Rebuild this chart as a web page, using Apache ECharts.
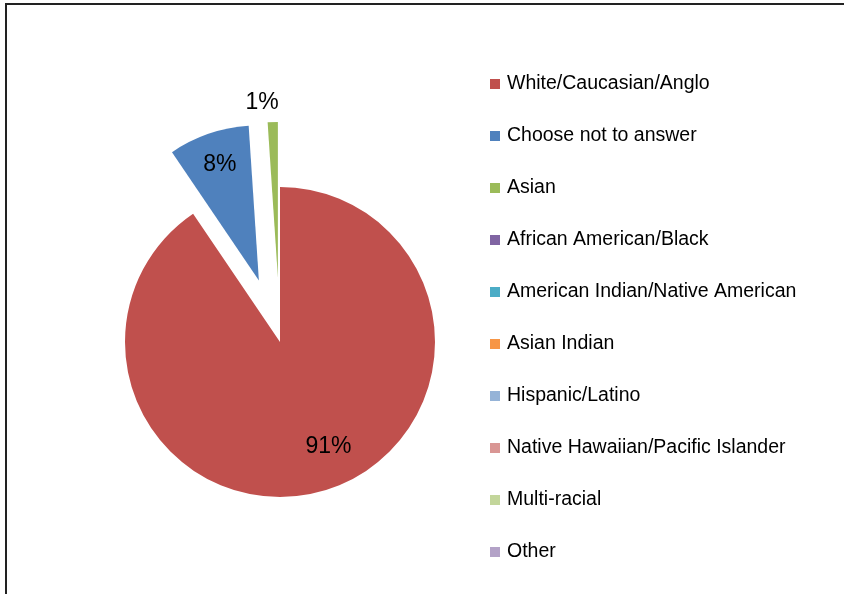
<!DOCTYPE html>
<html>
<head>
<meta charset="utf-8">
<script src="https://cdn.jsdelivr.net/npm/echarts@6/dist/echarts.min.js"></script>
<style>
  html, body { margin: 0; padding: 0; background: #fff; }
  #chart { width: 844px; height: 594px; }
</style>
</head>
<body>
<div id="chart"></div>
<script>
// categories and counts (labels show rounded percents: 91%, 8%, 1%)
const categories = [
  'White/Caucasian/Anglo',
  'Choose not to answer',
  'Asian',
  'African American/Black',
  'American Indian/Native American',
  'Asian Indian',
  'Hispanic/Latino',
  'Native Hawaiian/Pacific Islander',
  'Multi-racial',
  'Other'
]
const counts = [86, 8, 1, 0, 0, 0, 0, 0, 0, 0]
// slices pulled out of the pie
const exploded = ['Choose not to answer', 'Asian']
const colors = ['#C0504D', '#4F81BD', '#9BBB59', '#8064A2', '#4BACC6',
  '#F79646', '#95B3D7', '#D99694', '#C3D69B', '#B3A2C7']

const fontFamily = 'Liberation Sans, Arial, sans-serif'
const chart = echarts.init(document.getElementById('chart'))

const pieData = categories.map((name, i) => ({
  name: name,
  value: counts[i],
  selected: exploded.indexOf(name) >= 0,
  itemStyle: { color: colors[i] }
}))

// nudges so the percent labels sit where Excel's best fit put them
// (the label ring is not exploded, so these also carry the pull-out)
const labelNudge = {
  'White/Caucasian/Anglo': { offset: [14, -8] },
  'Choose not to answer': { offset: [-22, -66] },
  'Asian': { offset: [-14, -122] }
}

// second transparent ring only carries the percent labels
const labelData = categories.map((name, i) => {
  const item = {
    name: name,
    value: counts[i],
    itemStyle: { color: 'rgba(0,0,0,0)' }
  }
  if (labelNudge[name]) {
    item.label = labelNudge[name]
  }
  return item
})

const pctLabel = p => (p.value ? Math.round(p.percent) + '%' : '')

const option = {
  animation: false,
  color: colors,
  graphic: [
    {
      type: 'rect',
      silent: true,
      shape: { x: 6, y: 4, width: 1000, height: 1000 },
      style: { fill: 'none', stroke: '#222', lineWidth: 2 }
    }
  ],
  legend: {
    orient: 'vertical',
    left: 490,
    top: 74,
    padding: 0,
    itemWidth: 10,
    itemHeight: 10,
    itemGap: 32,
    icon: 'rect',
    selectedMode: false,
    data: categories,
    textStyle: {
      fontFamily: fontFamily,
      fontSize: 19.5,
      lineHeight: 20,
      color: '#000',
      padding: [0, 0, 0, 2]
    }
  },
  series: [
    {
      type: 'pie',
      center: [280, 342],
      radius: 155,
      startAngle: 90,
      selectedMode: 'multiple',
      selectedOffset: 65,
      label: { show: false },
      labelLine: { show: false },
      emphasis: { disabled: true },
      data: pieData
    },
    {
      type: 'pie',
      silent: true,
      center: [280, 342],
      radius: [74, 155],
      startAngle: 90,
      label: {
        show: true,
        position: 'inside',
        formatter: pctLabel,
        fontFamily: fontFamily,
        fontSize: 23,
        color: '#000'
      },
      labelLine: { show: false },
      emphasis: { disabled: true },
      data: labelData
    }
  ]
}

chart.setOption(option)
</script>
</body>
</html>
